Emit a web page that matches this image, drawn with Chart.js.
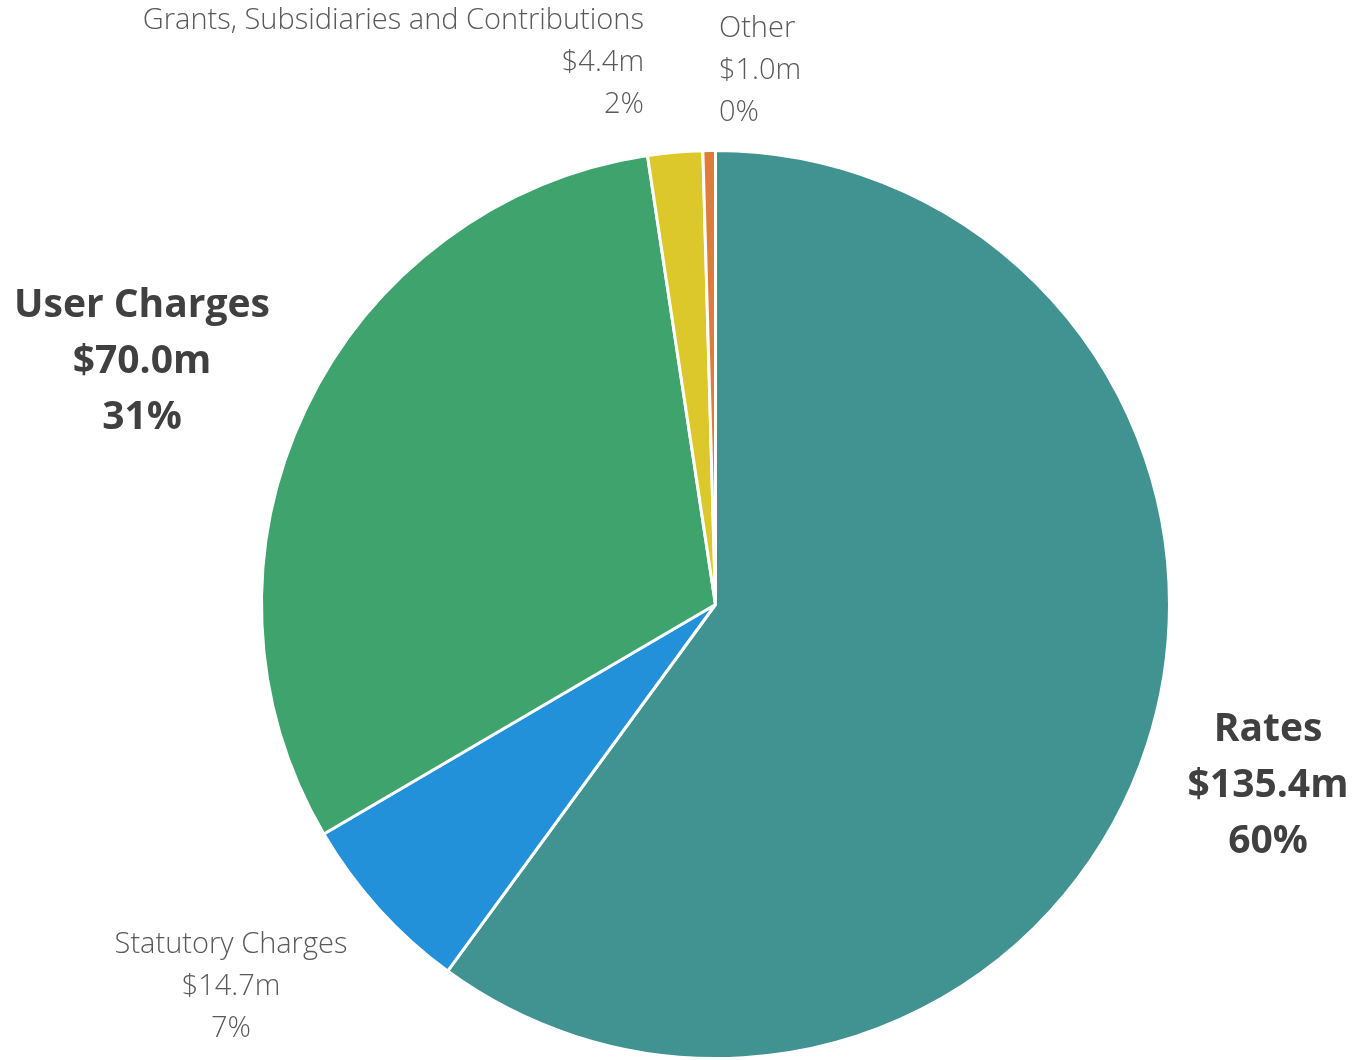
<!DOCTYPE html>
<html>
<head>
<meta charset="utf-8">
<script src="https://cdn.jsdelivr.net/npm/chart.js@4.4.0/dist/chart.umd.min.js"></script>
<style>
  html, body { margin: 0; padding: 0; background: #fff; }
  #wrap { width: 1362px; height: 1060px; }
</style>
</head>
<body>
<div id="wrap"><canvas id="revenueChart"></canvas></div>
<script>
// --- Dados do gráfico ---
const categories = ['Rates', 'Statutory Charges', 'User Charges', 'Grants, Subsidiaries and Contributions', 'Other'];
const amounts = [135.4, 14.7, 70.0, 4.4, 1.0];
const percentLabels = ['60%', '7%', '31%', '2%', '0%'];
const sliceColors = ['#419391', '#2391d9', '#3ea36c', '#dcc82a', '#dc7e3a'];

// posição e estilo de cada rótulo (x, y do centro da primeira linha, alinhamento, destaque)
const labelStyles = [
    { x: 1268, y: 730, align: 'center', big: true },
    { x: 231, y: 945, align: 'center', big: false },
    { x: 142, y: 306, align: 'center', big: true },
    { x: 644, y: 21, align: 'right', big: false },
    { x: 719, y: 29, align: 'left', big: false }
];

const sliceLabels = {
    id: 'sliceLabels',
    afterDraw(chart) {
        const c = chart.ctx;
        c.save();
        c.textBaseline = 'middle';
        categories.forEach((name, i) => {
            const s = labelStyles[i];
            const lines = [name, '$' + amounts[i].toFixed(1) + 'm', percentLabels[i]];
            c.fillStyle = s.big ? '#404040' : '#595959';
            c.font = s.big ? 'bold 39px "Open Sans", "Noto Sans", sans-serif' : '300 29px "Open Sans", "Noto Sans", sans-serif';
            c.textAlign = s.align;
            const step = s.big ? 56 : 42;
            lines.forEach((t, k) => c.fillText(t, s.x, s.y + k * step));
        });
        c.restore();
    }
};

const ctx = document.getElementById('revenueChart').getContext('2d');
new Chart(ctx, {
    type: 'pie',
    data: {
        labels: categories,
        datasets: [{
            data: amounts,
            backgroundColor: sliceColors,
            borderColor: '#ffffff',
            borderWidth: 3
        }]
    },
    options: {
        responsive: true,
        maintainAspectRatio: false,
        animation: false,
        layout: { padding: { left: 260, right: 191, top: 149, bottom: 0 } },
        plugins: { legend: { display: false }, tooltip: { enabled: false } }
    },
    plugins: [sliceLabels]
});
</script>
</body>
</html>
